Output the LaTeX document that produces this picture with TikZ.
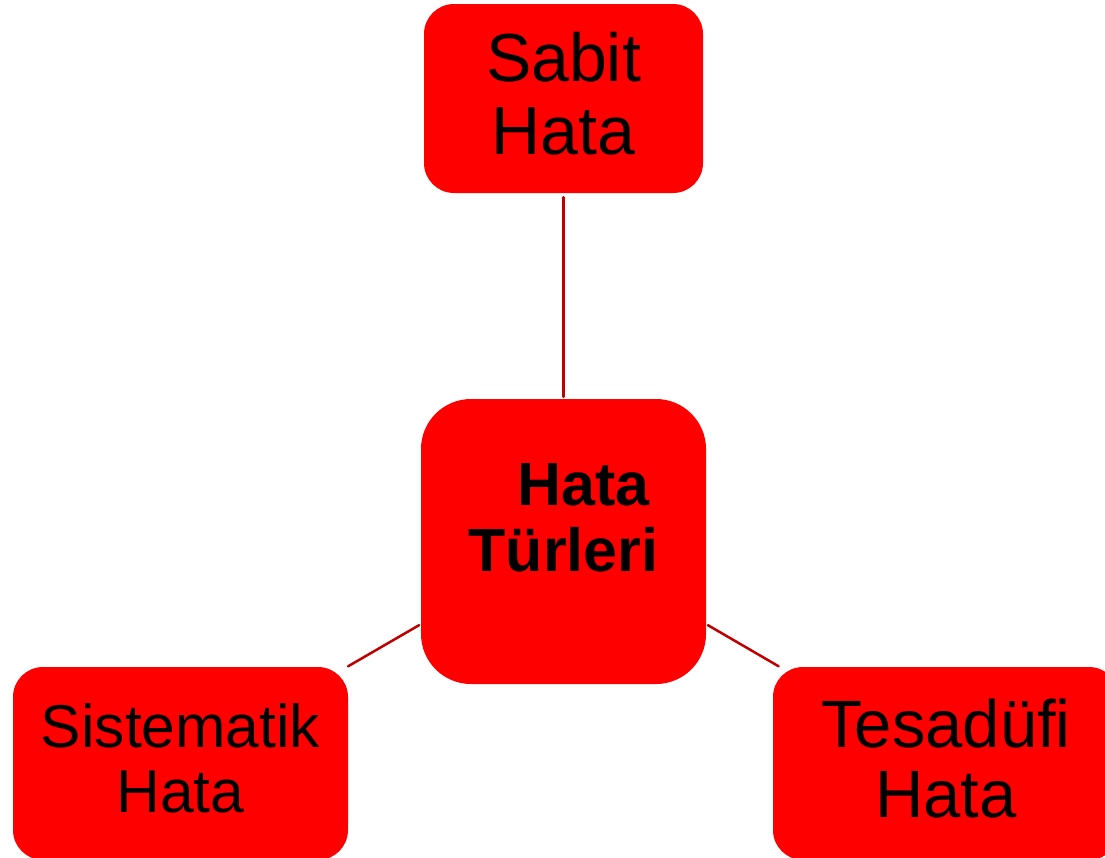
\documentclass[tikz,border=0pt]{standalone}
\usepackage{fontspec}
\setmainfont{Liberation Sans}
\usepackage{tikz}
\definecolor{boxred}{HTML}{FF0000}
\definecolor{linkred}{HTML}{C00000}

\begin{document}
\begin{tikzpicture}[x=1pt,y=-1pt,line cap=round,line join=round,
  kutu/.style={draw=none,fill=boxred,text=black,align=center,inner sep=0pt,rounded corners=30pt,text depth=10pt},
  bag/.style={draw=linkred,line width=2.5pt}]
\useasboundingbox (0,0) rectangle (1105,857);
\node [kutu,minimum width=279pt,minimum height=189pt,font=\fontsize{68}{73}\selectfont] (sabit) at (563.5,98.5) {Sabit\\Hata};
\node [kutu,minimum width=285pt,minimum height=285pt,rounded corners=50pt,text depth=48pt,font=\fontsize{61}{66}\selectfont\bfseries] (turler) at (563.5,541.5) {\hspace*{0.65em}Hata\\T\"urleri};
\node [kutu,minimum width=335pt,minimum height=193pt,font=\fontsize{60.5}{65}\selectfont] (sistematik) at (180.5,763.5) {Sistematik\\Hata};
\node [kutu,minimum width=346pt,minimum height=193pt,font=\fontsize{67}{70}\selectfont] (tesadufi) at (946,763.5) {Tesad\"ufi\\Hata};
\draw [bag,shorten <=4pt,shorten >=2pt] (sabit) -- (turler);
\draw [bag,shorten <=2pt,shorten >=1pt] (turler) -- (sistematik);
\draw [bag,shorten <=2pt,shorten >=1pt] (turler) -- (tesadufi);
\end{tikzpicture}
\end{document}
